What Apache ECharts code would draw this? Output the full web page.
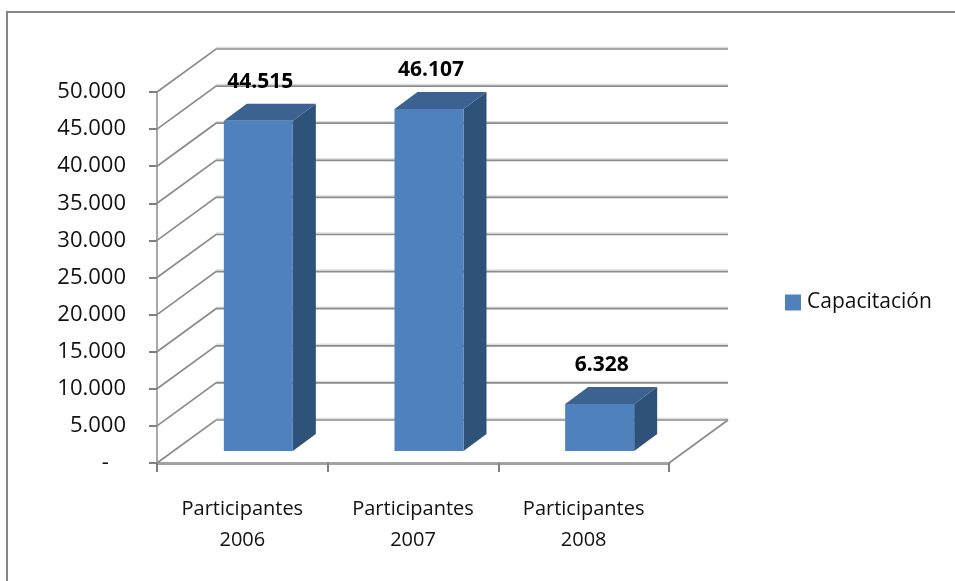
<!DOCTYPE html>
<html><head><meta charset="utf-8">
<style>html,body{margin:0;padding:0;background:#fff}#c{width:955px;height:581px}</style>
<script src="https://cdn.jsdelivr.net/npm/echarts@6/dist/echarts.min.js"></script>
</head><body><div id="c"></div>
<script>
const categories = ['Participantes\n2006', 'Participantes\n2007', 'Participantes\n2008'];
const capacitacion = [44515, 46107, 6328];
const tickValues = [0, 5000, 10000, 15000, 20000, 25000, 30000, 35000, 40000, 45000, 50000];
const seriesName = 'Capacitación';

const FONT = '"Open Sans", sans-serif';
const DX = 59, DY = -43;         // wall depth
const BAR_DX = 16, BAR_DY = -12; // bar position in depth
const BAR_W = 69, SIDE_DX = 23, SIDE_DY = -17;
const fmt = v => v === 0 ? '-\u00a0\u00a0\u00a0' : String(v).replace(/\B(?=(\d{3})+$)/g, '.');

const chart = echarts.init(document.getElementById('c'), null, {renderer: 'canvas'});
chart.setOption({
  backgroundColor: '#fff',
  animation: false,
  grid: {left: 157, top: 92, width: 512, height: 371, containLabel: false},
  legend: {
    left: 780, top: 287, icon: 'rect', itemWidth: 16, itemHeight: 16, itemGap: 0,
    data: [seriesName],
    textStyle: {fontFamily: FONT, fontSize: 21, color: '#111', padding: [0, 0, 0, 1]}
  },
  graphic: [
    {type: 'polyline', silent: true, shape: {points: [[7, 581], [7, 12], [955, 12]]},
     style: {stroke: '#868686', lineWidth: 2, fill: null}}
  ],
  xAxis: {
    type: 'category', data: categories,
    axisLine: {show: true, lineStyle: {color: '#a3a3a3', width: 3}},
    axisTick: {show: true, length: 9, lineStyle: {color: '#808080', width: 2}},
    axisLabel: {fontFamily: FONT, fontSize: 20, color: '#111', margin: 31, lineHeight: 31, interval: 0}
  },
  yAxis: {
    type: 'value', min: 0, max: 50000, interval: 5000,
    splitLine: {show: false},
    axisLine: {show: true, lineStyle: {color: '#a8a8a8', width: 2}},
    axisTick: {show: true, length: 8, lineStyle: {color: '#808080', width: 2}},
    axisLabel: {fontFamily: FONT, fontSize: 22, color: '#111', margin: 31, formatter: fmt}
  },
  series: [
    {
      type: 'custom', z: 1, silent: true, legendHoverLink: false,
      data: tickValues.map(v => [0, v]),
      encode: {x: 0, y: 1},
      renderItem: (params, api) => {
        const p = api.coord([0, api.value(1)]);
        const band = api.size([1, 0])[0];
        const x0 = p[0] - band / 2, y = p[1], x1 = x0 + 3 * band;
        const children = [
          {type: 'polyline', shape: {points: [[x0 + DX, y + DY - 1.5], [x1 + DX, y + DY - 1.5]]},
           style: {stroke: '#dedede', lineWidth: 1.5, fill: null}},
          {type: 'polyline', shape: {points: [[x0, y], [x0 + DX, y + DY], [x1 + DX, y + DY]]},
           style: {stroke: '#8c8c8c', lineWidth: 1.7, fill: null}}
        ];
        if (api.value(1) === 0) {
          children.push({type: 'line', shape: {x1: x1, y1: y, x2: x1 + DX, y2: y + DY},
            style: {stroke: '#8c8c8c', lineWidth: 1.7}});
        }
        return {type: 'group', children};
      }
    },
    {
      name: seriesName, type: 'custom', z: 3, silent: true,
      itemStyle: {color: '#4F81BD'},
      data: capacitacion.map((v, i) => [i, v]),
      encode: {x: 0, y: 1},
      renderItem: (params, api) => {
        const top = api.coord([api.value(0), api.value(1)]);
        const base = api.coord([api.value(0), 0]);
        const l = top[0] + BAR_DX - BAR_W / 2, r = l + BAR_W;
        const t = top[1] + BAR_DY, b = base[1] + BAR_DY;
        return {type: 'group', children: [
          {type: 'polygon', shape: {points: [[r, t], [r + SIDE_DX, t + SIDE_DY], [r + SIDE_DX, b + SIDE_DY], [r, b]]},
           style: {fill: '#2F5279'}},
          {type: 'polygon', shape: {points: [[l, t], [l + SIDE_DX, t + SIDE_DY], [r + SIDE_DX, t + SIDE_DY], [r, t]]},
           style: {fill: '#3B6291'}},
          {type: 'rect', shape: {x: l, y: t, width: BAR_W, height: b - t},
           style: {fill: '#4F81BD'}},
          {type: 'text', x: (l + r) / 2 + 2, y: t - 39,
           style: {text: fmt(api.value(1)), font: 'bold 21px ' + FONT, fill: '#000',
                   align: 'center', verticalAlign: 'middle'}}
        ]};
      }
    }
  ]
});
</script></body></html>
